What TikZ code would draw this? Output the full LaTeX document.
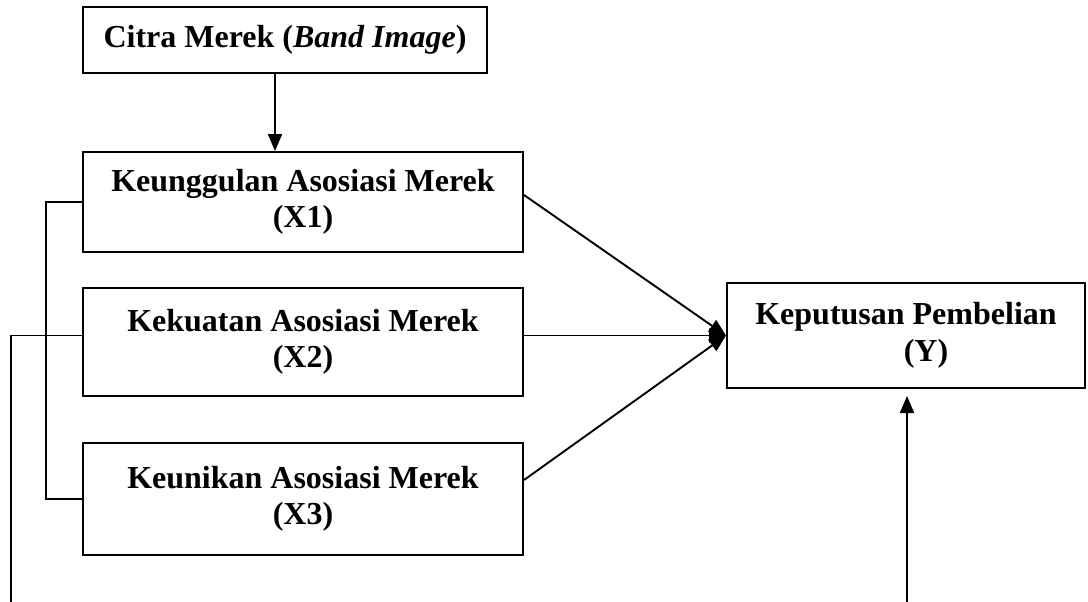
\documentclass[tikz,border=0pt]{standalone}
\usepackage{fontspec}
\setmainfont{Liberation Serif}
\usetikzlibrary{arrows.meta,calc}
\begin{document}
\begin{tikzpicture}[x=1pt,y=-1pt,
  box/.style={draw,line width=2pt,inner sep=0pt,align=center,font=\fontsize{32}{36}\selectfont\bfseries},
  conn/.style={line width=1.9pt},
  arr/.style={conn,-{Triangle[length=17pt,width=14pt]}}]
\useasboundingbox (0,0) rectangle (1088,602);
\node[box,minimum width=404pt,minimum height=66pt] (top) at (285,40) {Citra Merek (\textit{Band Image})};
\node[box,minimum width=440pt,minimum height=100pt] (x1) at (303,202) {Keunggulan Asosiasi Merek\\(X1)};
\node[box,minimum width=440pt,minimum height=108pt] (x2) at (303,342) {Kekuatan Asosiasi Merek\\(X2)};
\node[box,minimum width=440pt,minimum height=112pt] (x3) at (303,499) {Keunikan Asosiasi Merek\\(X3)};
\node[box,minimum width=358pt,minimum height=105pt] (y) at (906,335.5) {Keputusan Pembelian\\[1pt]\hspace*{40pt}(Y)};
\coordinate (bl) at (11,602);
\coordinate (yb) at (907,602);
\draw[arr] ([xshift=-10pt]top.south) -- ([xshift=-10pt]top.south |- x1.north);
\draw[arr] ([yshift=7pt]x1.east) -- (y.west);
\draw[arr] (x2.east |- y.west) -- (y.west);
\draw[arr] ([yshift=19pt]x3.east) -- (y.west);
\draw[conn] (x1.west) -- ++(-36,0) |- (x3.west);
\draw[conn] (x2.west |- y.west) -| (bl);
\draw[arr] (yb) -- ([yshift=-7pt]y.south -| yb);
\end{tikzpicture}
\end{document}
